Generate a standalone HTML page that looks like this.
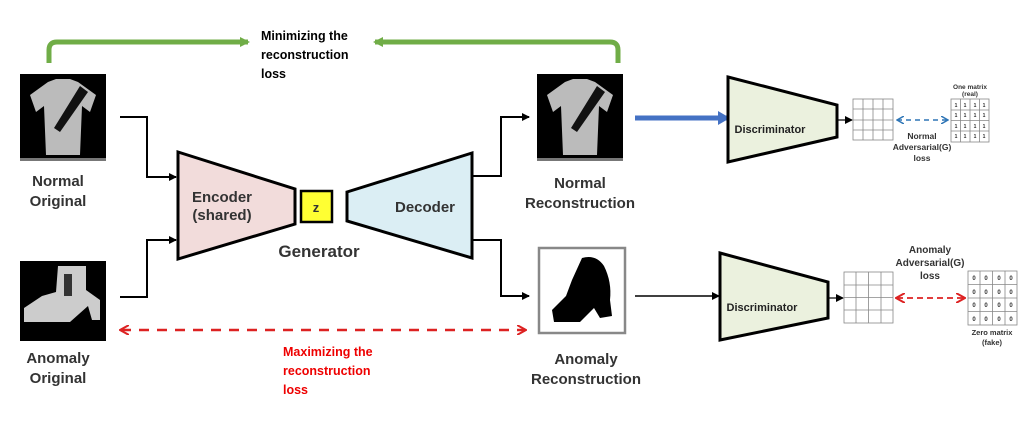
<!DOCTYPE html>
<html><head><meta charset="utf-8"><style>
html,body{margin:0;padding:0;background:#fff;}
svg{display:block;}
text{font-family:"Liberation Sans",sans-serif;font-weight:bold;}
</style></head><body>
<svg width="1022" height="433" viewBox="0 0 1022 433" xmlns="http://www.w3.org/2000/svg">
<defs>
<marker id="ab" markerWidth="8" markerHeight="8" refX="7" refY="4" orient="auto" markerUnits="userSpaceOnUse"><path d="M0,0 L8,4 L0,8 z" fill="#000"/></marker>
<marker id="ag" markerWidth="10" markerHeight="10" refX="8" refY="5" orient="auto" markerUnits="userSpaceOnUse"><path d="M0,0 L10,5 L0,10 z" fill="#70ad47"/></marker>
<marker id="ar" markerWidth="10" markerHeight="10" refX="8" refY="5" orient="auto-start-reverse" markerUnits="userSpaceOnUse"><path d="M0,0 L9,5 L0,10" fill="none" stroke="#d22" stroke-width="2"/></marker>
<marker id="abl" markerWidth="8" markerHeight="8" refX="7" refY="4" orient="auto-start-reverse" markerUnits="userSpaceOnUse"><path d="M0,0 L7,4 L0,8" fill="none" stroke="#2e75b6" stroke-width="1.5"/></marker>
<marker id="abig" markerWidth="14" markerHeight="14" refX="10" refY="7" orient="auto" markerUnits="userSpaceOnUse"><path d="M0,0 L12,7 L0,14 z" fill="#4472c4"/></marker>
</defs>

<!-- green loss arrows -->
<path d="M49,63 V50 Q49,42 57,42 H248" fill="none" stroke="#70ad47" stroke-width="5" marker-end="url(#ag)"/>
<path d="M618,63 V50 Q618,42 610,42 H375" fill="none" stroke="#70ad47" stroke-width="5" marker-end="url(#ag)"/>
<text font-size="12.5" fill="#000"><tspan x="261" y="40">Minimizing the</tspan><tspan x="261" y="59">reconstruction</tspan><tspan x="261" y="78">loss</tspan></text>

<!-- normal original (shirt) -->
<rect x="20" y="74" width="86" height="86" fill="#000"/>
<path d="M48,82 L56,79 L70,79 L78,82 L96,95 L90,112 L82,106 L80,155 L46,155 L44,106 L36,112 L30,95 z" fill="#bbb"/>
<path d="M80,86 L88,92 L60,132 L54,128 z" fill="#111"/>
<rect x="20" y="158" width="86" height="3" fill="#777"/>
<text x="58" y="186" font-size="15" text-anchor="middle" fill="#333">Normal</text>
<text x="58" y="206" font-size="15" text-anchor="middle" fill="#333">Original</text>

<!-- anomaly original (boot) -->
<rect x="20" y="261" width="86" height="80" fill="#000"/>
<path d="M58,266 L86,266 L86,290 L100,300 L100,320 L92,320 L88,306 L70,322 L24,322 L24,308 L42,296 L56,292 z" fill="#ccc"/>
<rect x="64" y="274" width="8" height="22" fill="#333"/>
<text x="58" y="363" font-size="15" text-anchor="middle" fill="#333">Anomaly</text>
<text x="58" y="383" font-size="15" text-anchor="middle" fill="#333">Original</text>

<!-- input arrows -->
<path d="M120,117 H147 V177 H176" fill="none" stroke="#000" stroke-width="2" marker-end="url(#ab)"/>
<path d="M120,297 H147 V240 H176" fill="none" stroke="#000" stroke-width="2" marker-end="url(#ab)"/>

<!-- encoder -->
<polygon points="178,152 295,189 295,224 178,259" fill="#f2dcdb" stroke="#000" stroke-width="3"/>
<text x="222" y="202" font-size="15" text-anchor="middle" fill="#333">Encoder</text>
<text x="222" y="220" font-size="15" text-anchor="middle" fill="#333">(shared)</text>
<!-- z -->
<rect x="301" y="191" width="31" height="31" fill="#ffff33" stroke="#000" stroke-width="2.5"/>
<text x="316" y="212" font-size="13" text-anchor="middle" fill="#333">z</text>
<!-- decoder -->
<polygon points="347,192 472,153 472,258 347,221" fill="#dbeef4" stroke="#000" stroke-width="3"/>
<text x="425" y="212" font-size="15" text-anchor="middle" fill="#333">Decoder</text>
<text x="319" y="257" font-size="17" text-anchor="middle" fill="#333">Generator</text>

<!-- decoder outputs -->
<path d="M472,176 H501 V117 H529" fill="none" stroke="#000" stroke-width="2" marker-end="url(#ab)"/>
<path d="M472,240 H501 V296 H529" fill="none" stroke="#000" stroke-width="2" marker-end="url(#ab)"/>

<!-- normal recon -->
<rect x="537" y="74" width="86" height="86" fill="#000"/>
<path d="M565,82 L573,79 L587,79 L595,82 L613,95 L607,112 L599,106 L597,155 L563,155 L561,106 L553,112 L547,95 z" fill="#bbb"/>
<path d="M597,86 L605,92 L577,132 L571,128 z" fill="#111"/>
<rect x="537" y="158" width="86" height="3" fill="#777"/>
<text x="580" y="188" font-size="15" text-anchor="middle" fill="#333">Normal</text>
<text x="580" y="208" font-size="15" text-anchor="middle" fill="#333">Reconstruction</text>

<!-- anomaly recon -->
<rect x="539" y="248" width="86" height="85" fill="#fff" stroke="#888" stroke-width="2.5"/>
<path d="M582,258 Q596,254 604,266 Q612,282 610,300 L612,316 L600,318 L594,308 L580,322 L554,322 L552,310 L566,296 L572,280 z" fill="#000"/>
<text x="586" y="364" font-size="15" text-anchor="middle" fill="#333">Anomaly</text>
<text x="586" y="384" font-size="15" text-anchor="middle" fill="#333">Reconstruction</text>

<!-- red dashed -->
<line x1="121" y1="330" x2="525" y2="330" stroke="#d22" stroke-width="2.5" stroke-dasharray="10,8" marker-start="url(#ar)" marker-end="url(#ar)"/>
<text font-size="12.5" fill="#e00"><tspan x="283" y="356">Maximizing the</tspan><tspan x="283" y="375">reconstruction</tspan><tspan x="283" y="394">loss</tspan></text>

<!-- blue arrow to disc -->
<line x1="635" y1="118" x2="728" y2="118" stroke="#4472c4" stroke-width="5" marker-end="url(#abig)"/>
<!-- top discriminator -->
<polygon points="728,77 837,105 837,137 728,162" fill="#ebf1de" stroke="#000" stroke-width="3"/>
<text x="770" y="133" font-size="11" text-anchor="middle" fill="#222">Discriminator</text>
<line x1="837" y1="120" x2="852" y2="120" stroke="#000" stroke-width="1.2" marker-end="url(#ab)"/>
<g stroke="#888" stroke-width="0.8" fill="#fff">
<rect x="853" y="99" width="40" height="41"/>
<path d="M863,99V140M873,99V140M883,99V140M853,109H893M853,120H893M853,130H893" fill="none"/>
</g>
<line x1="897" y1="120" x2="948" y2="120" stroke="#2e75b6" stroke-width="1.5" stroke-dasharray="5,4" marker-start="url(#abl)" marker-end="url(#abl)"/>
<g stroke="#888" stroke-width="0.8" fill="#fff">
<rect x="951" y="99" width="38" height="43"/>
<path d="M960.5,99V142M970,99V142M979.5,99V142M951,110H989M951,120.5H989M951,131H989" fill="none"/>
</g>
<g font-size="5" fill="#333" text-anchor="middle" font-weight="normal">
<text x="956" y="107">1</text><text x="965" y="107">1</text><text x="975" y="107">1</text><text x="984" y="107">1</text>
<text x="956" y="117">1</text><text x="965" y="117">1</text><text x="975" y="117">1</text><text x="984" y="117">1</text>
<text x="956" y="128">1</text><text x="965" y="128">1</text><text x="975" y="128">1</text><text x="984" y="128">1</text>
<text x="956" y="138">1</text><text x="965" y="138">1</text><text x="975" y="138">1</text><text x="984" y="138">1</text>
</g>
<text x="970" y="89" font-size="6.5" text-anchor="middle" fill="#333">One matrix</text>
<text x="970" y="96" font-size="6.5" text-anchor="middle" fill="#333">(real)</text>
<text x="922" y="139" font-size="8.5" text-anchor="middle" fill="#333">Normal</text>
<text x="922" y="150" font-size="8.5" text-anchor="middle" fill="#333">Adversarial(G)</text>
<text x="922" y="161" font-size="8.5" text-anchor="middle" fill="#333">loss</text>

<!-- bottom -->
<line x1="635" y1="296" x2="719" y2="296" stroke="#000" stroke-width="1.5" marker-end="url(#ab)"/>
<polygon points="720,253 828,282 828,318 720,340" fill="#ebf1de" stroke="#000" stroke-width="3"/>
<text x="762" y="311" font-size="11" text-anchor="middle" fill="#222">Discriminator</text>
<line x1="828" y1="298" x2="843" y2="298" stroke="#000" stroke-width="1.2" marker-end="url(#ab)"/>
<g stroke="#888" stroke-width="0.8" fill="#fff">
<rect x="844" y="272" width="49" height="51"/>
<path d="M856,272V323M868.5,272V323M881,272V323M844,285H893M844,297.5H893M844,310H893" fill="none"/>
</g>
<line x1="897" y1="298" x2="964" y2="298" stroke="#d22" stroke-width="1.8" stroke-dasharray="6,4" marker-start="url(#ar)" marker-end="url(#ar)"/>
<g stroke="#888" stroke-width="0.8" fill="#fff">
<rect x="968" y="271" width="49" height="54"/>
<path d="M980,271V325M992.5,271V325M1005,271V325M968,284.5H1017M968,298H1017M968,311.5H1017" fill="none"/>
</g>
<g font-size="6" fill="#333" text-anchor="middle" font-weight="normal">
<text x="974" y="280">0</text><text x="986" y="280">0</text><text x="999" y="280">0</text><text x="1011" y="280">0</text>
<text x="974" y="294">0</text><text x="986" y="294">0</text><text x="999" y="294">0</text><text x="1011" y="294">0</text>
<text x="974" y="307">0</text><text x="986" y="307">0</text><text x="999" y="307">0</text><text x="1011" y="307">0</text>
<text x="974" y="321">0</text><text x="986" y="321">0</text><text x="999" y="321">0</text><text x="1011" y="321">0</text>
</g>
<text x="992" y="335" font-size="7.5" text-anchor="middle" fill="#333">Zero matrix</text>
<text x="992" y="345" font-size="7.5" text-anchor="middle" fill="#333">(fake)</text>
<text x="930" y="253" font-size="10" text-anchor="middle" fill="#333">Anomaly</text>
<text x="930" y="266" font-size="10" text-anchor="middle" fill="#333">Adversarial(G)</text>
<text x="930" y="279" font-size="10" text-anchor="middle" fill="#333">loss</text>
</svg>
</body></html>
